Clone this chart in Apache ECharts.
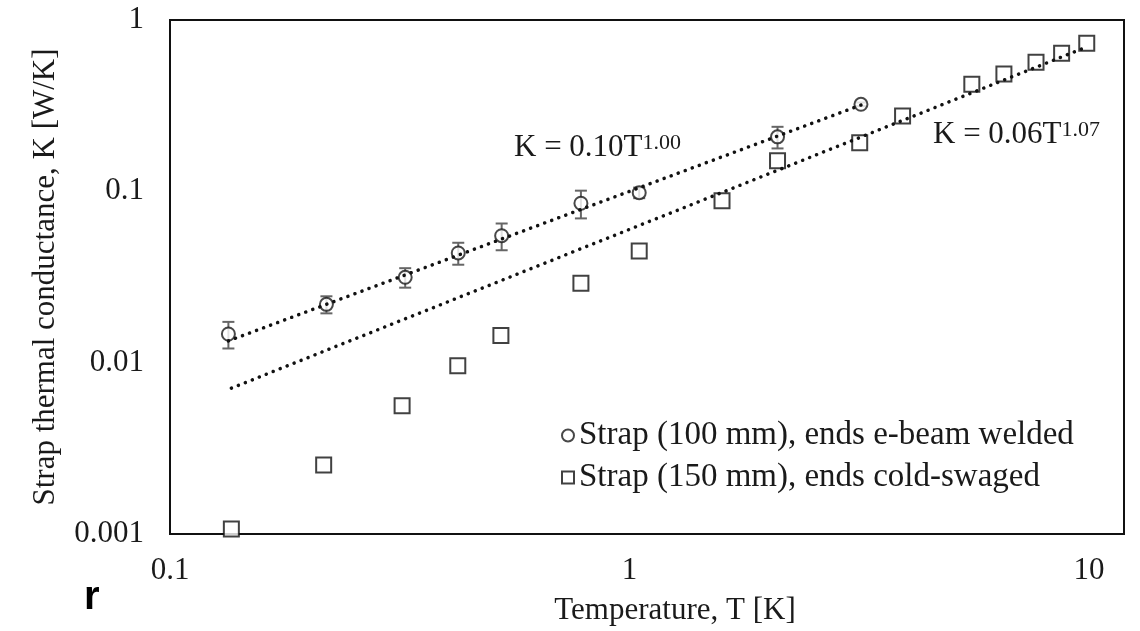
<!DOCTYPE html>
<html>
<head>
<meta charset="utf-8">
<script src="https://cdn.jsdelivr.net/npm/echarts@6/dist/echarts.min.js"></script>
<style>
html,body{margin:0;padding:0;background:#fff;}
#chart{width:1140px;height:631px;}
</style>
</head>
<body>
<div id="chart"></div>
<script>
// ---- data ----
const circleT   = [0.134, 0.219, 0.325, 0.424, 0.527, 0.784, 1.05, 2.10, 3.19];
const circleK   = [0.0147, 0.0219, 0.0315, 0.0437, 0.0551, 0.0852, 0.0982, 0.208, 0.322];
const circleErr = [0.0026, 0.0025, 0.0041, 0.0064, 0.0098, 0.0157, 0.0070, 0.030, 0.008];

const squareT = [0.136, 0.216, 0.320, 0.423, 0.525, 0.784, 1.05, 1.59, 2.10, 3.17, 3.93, 5.56, 6.53, 7.67, 8.72, 9.89];
const squareK = [0.00107, 0.00253, 0.00561, 0.0096, 0.0144, 0.0291, 0.0448, 0.0882, 0.151, 0.192, 0.275, 0.421, 0.484, 0.567, 0.639, 0.731];

// trend-line end points (power-law fits shown on the chart)
const fit1T = [0.134, 3.19];
const fit1K = [0.0134, 0.319];
const fit2T = [0.136, 9.89];
const fit2K = [0.0071, 0.696];

const seriesNames = ['Strap (100 mm), ends e-beam welded', 'Strap (150 mm), ends cold-swaged'];
const xTitle = 'Temperature, T [K]';
const yTitle = 'Strap thermal conductance, K [W/K]';
const eq1 = ['K = 0.10T', '1.00'];
const eq2 = ['K = 0.06T', '1.07'];
const xRange = [0.1, 11.92];
const yRange = [0.001, 1];

// ---- build ----
const FONT = '"Liberation Serif", "Times New Roman", serif';
const TXT = '#1a1a1a';
const zip = (a, b) => a.map((v, i) => [v, b[i]]);
const powLabel = v => {
  const l = Math.log10(v);
  return Math.abs(l - Math.round(l)) < 1e-6 ? String(+v.toPrecision(1)) : '';
};

const chart = echarts.init(document.getElementById('chart'), null, {renderer: 'canvas'});
chart.setOption({
  animation: false,
  backgroundColor: '#fff',
  grid: {left: 170, right: 16, top: 20, bottom: 97, show: true, borderColor: '#111', borderWidth: 2, backgroundColor: 'transparent'},
  xAxis: {
    type: 'log', logBase: 10, min: xRange[0], max: xRange[1],
    axisLine: {show: true, lineStyle: {color: '#111', width: 2}},
    axisTick: {show: false}, splitLine: {show: false}, minorTick: {show: false},
    axisLabel: {formatter: powLabel, color: TXT, fontFamily: FONT, fontSize: 31, margin: 21, showMaxLabel: true},
    name: xTitle, nameLocation: 'middle', nameGap: 61,
    nameTextStyle: {color: TXT, fontFamily: FONT, fontSize: 31, padding: [0, 0, 0, 56]}
  },
  yAxis: {
    type: 'log', logBase: 10, min: yRange[0], max: yRange[1],
    axisLine: {show: true, lineStyle: {color: '#111', width: 2}},
    axisTick: {show: false}, splitLine: {show: false}, minorTick: {show: false},
    axisLabel: {formatter: powLabel, color: TXT, fontFamily: FONT, fontSize: 31, margin: 26},
    name: yTitle, nameLocation: 'middle', nameGap: 109, nameRotate: 90,
    nameTextStyle: {color: TXT, fontFamily: FONT, fontSize: 31}
  },
  legend: {
    data: seriesNames,
    orient: 'vertical', left: 556, top: 414, padding: 5,
    itemWidth: 12, itemHeight: 12, itemGap: 9,
    textStyle: {color: TXT, fontFamily: FONT, fontSize: 33, lineHeight: 32}
  },
  graphic: [
    {type: 'text', left: 514, top: 132, z: 100, style: {
      text: '{m|' + eq1[0] + '}{s|' + eq1[1] + '}',
      rich: {m: {fontSize: 31, fontFamily: FONT, fill: TXT, lineHeight: 31},
             s: {fontSize: 22, fontFamily: FONT, fill: TXT, verticalAlign: 'top'}}
    }},
    {type: 'text', left: 933, top: 119, z: 100, style: {
      text: '{m|' + eq2[0] + '}{s|' + eq2[1] + '}',
      rich: {m: {fontSize: 31, fontFamily: FONT, fill: TXT, lineHeight: 31},
             s: {fontSize: 22, fontFamily: FONT, fill: TXT, verticalAlign: 'top'}}
    }},
    {type: 'text', left: 84, top: 578, style: {text: 'r', fontSize: 40, fontWeight: 'bold', fontFamily: 'Liberation Sans, Arial, sans-serif', fill: '#000'}}
  ],
  series: [
    {
      name: 'errbar', type: 'custom', z: 2,
      data: circleT.map((t, i) => [t, circleK[i] - circleErr[i], circleK[i] + circleErr[i]]),
      encode: {x: 0, y: [1, 2]},
      renderItem: (params, api) => {
        const x = api.value(0);
        const top = api.coord([x, api.value(2)]);
        const bot = api.coord([x, api.value(1)]);
        const w = 6;
        const st = {stroke: '#666', lineWidth: 2};
        return {type: 'group', children: [
          {type: 'line', shape: {x1: top[0], y1: top[1], x2: bot[0], y2: bot[1]}, style: st},
          {type: 'line', shape: {x1: top[0] - w, y1: top[1], x2: top[0] + w, y2: top[1]}, style: st},
          {type: 'line', shape: {x1: bot[0] - w, y1: bot[1], x2: bot[0] + w, y2: bot[1]}, style: st}
        ]};
      }
    },
    {
      name: seriesNames[0], type: 'scatter', z: 3,
      symbol: 'emptyCircle', symbolSize: 13,
      itemStyle: {color: '#1a1a1a', borderColor: '#1a1a1a', borderWidth: 2.2},
      data: zip(circleT, circleK)
    },
    {
      name: seriesNames[1], type: 'scatter', z: 3,
      symbol: 'emptyRect', symbolSize: 15,
      itemStyle: {color: '#111', borderColor: '#111', borderWidth: 2.6},
      data: zip(squareT, squareK)
    },
    {
      name: 'fit1', type: 'line', z: 5, showSymbol: false, symbol: 'none',
      lineStyle: {color: '#111', width: 3.5, type: [0.1, 7.4], cap: 'round'},
      data: zip(fit1T, fit1K)
    },
    {
      name: 'fit2', type: 'line', z: 5, showSymbol: false, symbol: 'none',
      lineStyle: {color: '#111', width: 3.5, type: [0.1, 7.4], cap: 'round'},
      data: zip(fit2T, fit2K)
    }
  ]
});
</script>
</body>
</html>
